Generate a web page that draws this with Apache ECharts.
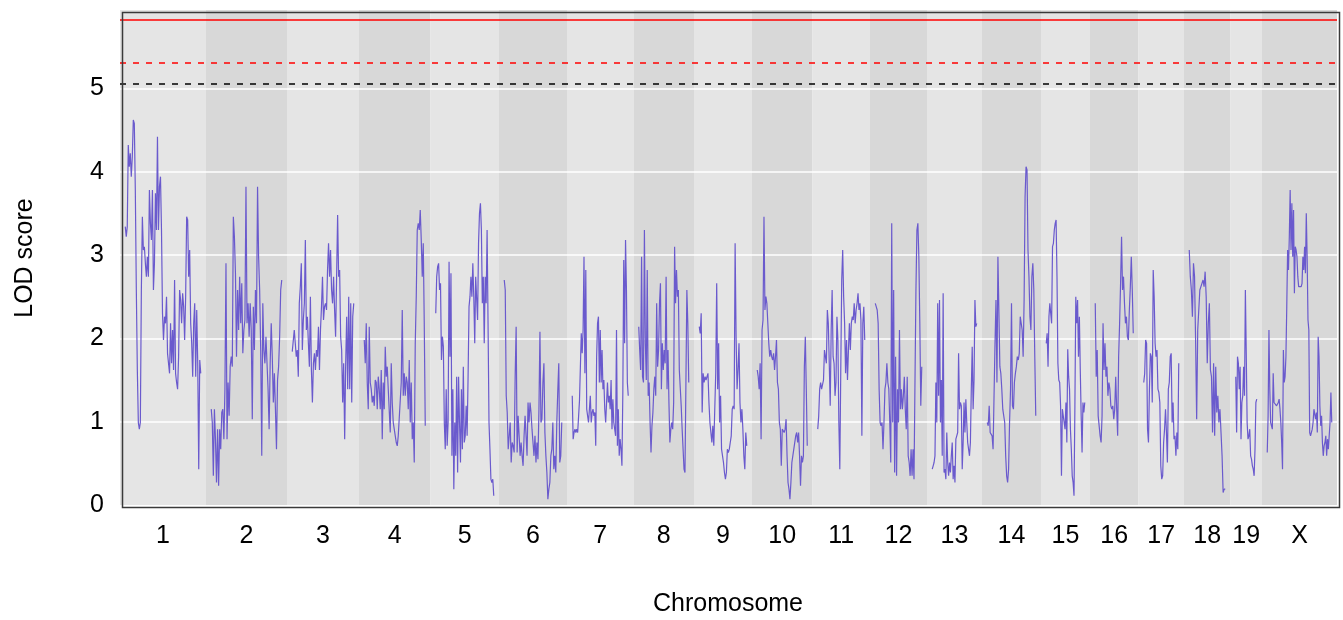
<!DOCTYPE html>
<html>
<head>
<meta charset="utf-8">
<script src="https://cdn.jsdelivr.net/npm/echarts@6/dist/echarts.min.js"></script>
<style>html,body{margin:0;padding:0;background:#fff;}#c{width:1343px;height:620px;}</style>
</head>
<body>
<div id="c"></div>
<script>
// Chromosome names and marker-span lengths (cM, arbitrary scale)
const chrNames = ['1','2','3','4','5','6','7','8','9','10','11','12','13','14','15','16','17','18','19','X'];
const chrLen = [75.5,70.5,61.5,61,58,57.5,56,50,47.5,50,47,46.5,44.5,48.5,38.5,38,35,36,21,64.5];
const chrGap = 10.5;

// LOD scores per chromosome, evenly spaced markers along each chromosome
const lod1 = [3.34,3.22,3.34,4.32,4.06,4.22,3.94,4.18,4.62,4.58,3.78,2.58,1.62,0.99,0.91,0.99,2.58,3.46,3.06,3.10,2.90,2.74,2.98,2.74,3.78,3.38,3.18,3.78,2.58,2.90,3.74,3.30,4.42,3.30,3.82,3.94,3.30,2.30,1.98,2.26,2.18,2.50,1.82,1.82,1.58,2.18,1.70,2.10,1.62,2.70,1.58,1.47,1.39,1.78,2.58,2.46,2.18,2.54,2.38,1.98,2.50,3.46,3.42,2.74,3.06,2.18,1.94,1.54,2.18,2.42,1.54,2.34,1.70,0.43,1.74,1.58];
const lod2 = [1.15,0.99,0.35,1.15,0.79,0.27,0.91,0.23,0.91,0.67,1.11,1.15,0.79,1.39,2.90,0.79,1.47,1.07,1.66,1.78,1.66,3.46,3.22,2.78,1.78,2.58,2.10,2.74,2.18,2.66,1.82,2.10,2.22,3.82,2.18,2.42,2.02,2.42,2.10,1.03,2.38,1.86,2.58,2.18,3.82,2.98,2.58,1.86,0.59,2.42,1.86,1.70,2.02,1.70,1.39,0.91,1.70,2.18,1.78,1.23,1.58,1.15,0.67,1.50,1.66,2.02,2.58,2.70];
const lod3 = [1.84,1.84,2.10,2.10,1.78,1.86,1.54,2.42,2.62,2.90,1.86,2.22,2.42,3.18,2.10,2.26,1.94,1.66,2.50,1.62,1.23,1.70,1.82,1.62,1.86,1.78,2.14,1.62,2.10,2.38,2.74,2.22,2.38,2.42,2.34,2.82,3.14,2.74,3.06,2.58,2.42,2.74,2.34,2.02,2.74,3.48,2.74,2.82,2.02,1.86,1.23,1.70,0.79,1.70,2.26,1.39,2.50,1.39,2.42,1.23,2.26,2.42];
const lod4 = [1.98,1.70,2.18,1.47,1.15,2.14,1.47,1.39,1.23,1.31,1.19,1.50,1.47,1.15,1.54,1.39,1.15,1.62,0.79,1.47,1.15,1.90,1.54,1.66,1.39,1.39,0.87,1.70,1.23,0.99,0.99,0.83,0.75,0.71,0.83,0.83,0.83,1.47,2.34,1.31,1.58,1.31,1.54,1.47,1.15,1.74,0.99,1.47,0.79,0.99,0.51,1.94,2.50,3.30,3.38,3.30,3.54,3.18,2.74,3.14,2.18,0.95];
const lod5 = [2.30,2.74,2.86,2.90,2.58,2.66,1.74,2.02,1.90,0.99,0.67,1.39,0.71,0.99,2.92,1.78,2.78,0.59,1.39,0.19,0.99,0.59,1.54,0.39,1.54,0.99,0.51,1.39,0.67,1.66,0.75,0.83,1.19,0.83,1.54,2.38,2.50,2.74,2.50,2.90,2.50,1.94,2.74,2.74,2.22,3.14,3.50,3.62,3.30,2.42,2.74,1.94,2.74,2.42,3.30,2.18,0.99,0.67,0.31,0.27,0.31,0.11];
const lod6 = [2.70,2.58,1.31,1.11,0.67,0.67,0.99,0.51,0.75,0.71,0.63,1.54,2.14,0.63,1.07,0.83,0.59,0.75,0.59,0.47,0.83,1.07,0.83,0.59,1.23,0.99,1.23,1.11,0.91,0.75,0.59,0.83,0.51,0.75,0.55,1.15,2.08,0.99,1.03,1.47,1.70,0.87,0.59,0.39,0.07,0.19,0.27,0.59,0.67,0.99,0.43,0.59,0.39,0.99,1.37,1.70,0.51,0.59,0.99];
const lod7 = [1.31,0.79,0.87,0.91,0.87,0.91,0.87,0.87,1.25,1.27,2.06,1.82,2.10,2.98,1.58,2.82,1.15,1.15,0.99,0.99,1.31,0.99,1.11,1.15,1.07,1.11,0.71,1.78,2.18,2.26,1.47,2.10,1.47,1.86,1.39,1.50,1.15,0.99,1.23,1.47,1.23,1.31,1.15,1.50,0.91,1.27,0.99,0.91,0.83,2.10,0.71,1.15,0.59,0.79,0.67,0.47,1.35,2.94,1.94,3.18,2.58,1.47,1.31];
const lod8 = [2.14,1.86,1.62,2.98,1.54,1.47,3.30,1.94,1.50,2.82,1.31,1.47,0.99,0.63,0.95,1.11,1.39,1.54,1.31,2.42,1.66,1.86,2.42,2.66,1.39,1.94,1.62,1.86,1.70,2.74,1.39,1.86,1.23,0.75,0.91,0.99,0.91,1.23,3.10,2.42,2.82,2.50,2.58,1.62,1.62,1.19,0.91,0.67,0.43,0.39,1.47,2.58,2.18,1.47];
const lod9 = [2.14,2.06,2.30,1.11,1.58,1.47,1.54,1.50,1.54,1.58,1.23,0.99,0.87,0.75,0.95,0.71,1.15,1.58,2.66,1.39,1.94,0.99,1.31,0.67,0.67,0.51,0.39,0.31,0.39,0.67,0.63,0.67,0.75,0.83,1.15,1.19,1.15,3.14,2.02,1.39,1.62,1.94,1.23,0.99,1.15,0.91,0.59,0.43,0.87,0.71];
const lod10 = [1.62,1.54,1.39,1.70,0.79,2.10,2.22,3.46,2.34,2.50,2.42,2.18,1.94,1.78,1.86,1.78,1.74,1.82,1.62,1.78,1.98,1.47,1.39,0.99,0.91,0.47,0.91,0.91,0.87,0.91,1.03,0.59,0.27,0.19,0.07,0.27,0.51,0.59,0.59,0.59,0.83,0.87,0.75,0.87,0.59,0.23,0.59,0.51,0.59,1.66,2.02,1.39,0.71];
const lod11 = [0.91,1.07,1.39,1.47,1.39,1.39,1.50,1.86,1.78,1.70,2.34,2.18,1.70,1.19,2.10,2.58,1.78,1.70,1.31,1.47,2.26,1.98,0.99,0.43,1.62,2.70,3.06,2.50,2.18,1.58,1.98,1.50,1.86,2.18,1.86,2.18,2.26,2.22,2.42,2.18,2.34,2.42,2.54,2.34,2.42,2.22,0.83,2.18,2.38,1.98];
const lod12 = [2.42,2.38,2.34,2.18,1.39,0.99,0.95,0.99,0.67,0.99,1.39,1.47,1.70,1.47,1.39,0.99,0.51,3.38,0.99,2.58,0.39,1.78,0.35,1.39,0.99,2.10,1.15,1.39,1.15,1.31,1.54,1.15,0.91,1.54,0.59,0.51,0.35,0.67,0.35,0.67,0.31,1.47,2.58,3.30,3.38,2.98,2.18,1.19,1.66];
const lod13 = [0.43,0.47,0.51,0.59,1.47,0.99,2.42,1.31,2.46,0.99,1.50,0.59,2.54,0.39,0.43,0.31,0.87,0.51,0.35,0.51,0.39,0.59,0.75,0.31,0.47,0.27,0.79,0.83,0.87,1.82,1.15,1.23,1.19,0.43,0.75,1.23,0.87,1.27,0.99,0.75,0.67,0.59,0.75,1.39,1.90,1.15,1.50,2.46,2.14,2.18];
const lod14 = [0.99,0.95,1.19,0.87,0.87,0.83,0.67,1.31,1.94,2.46,1.47,2.98,2.98,1.66,1.58,1.39,1.15,1.15,0.99,0.59,0.35,0.27,0.43,0.99,1.39,2.42,1.19,1.15,1.47,1.58,1.66,1.78,1.74,1.82,2.26,2.18,2.10,1.78,2.46,3.70,4.06,4.02,3.06,2.74,2.26,2.10,2.74,2.90,2.58,1.78,1.07];
const lod15 = [1.94,2.06,1.66,2.26,2.42,2.30,2.18,3.10,3.14,3.30,3.38,3.42,2.74,1.70,1.50,1.47,1.19,0.35,1.15,1.07,0.99,0.91,1.23,0.75,1.87,1.54,1.39,0.91,0.67,0.35,0.27,0.11,1.19,2.50,2.18,2.46,1.78,2.26,1.62,1.07,0.63,1.23,1.11,1.23];
const lod16 = [2.42,1.54,1.86,1.07,0.95,0.83,0.75,1.07,2.18,1.62,1.94,1.54,1.66,1.31,1.47,1.39,1.19,1.15,1.19,1.03,1.15,1.54,1.15,0.83,1.78,2.18,2.66,3.22,2.58,2.74,2.42,2.18,2.26,2.02,1.98,2.34,2.62,2.98,2.58,2.06];
const lod17 = [1.47,1.58,1.98,1.94,0.91,0.75,1.39,1.82,1.78,1.23,2.82,2.50,1.94,1.78,1.86,1.39,1.35,1.23,0.47,0.31,0.35,0.75,0.91,1.15,0.87,0.51,1.39,1.47,1.78,1.82,0.99,1.23,0.79,0.83,0.59,0.87,0.67,1.70];
const lod18 = [3.06,2.74,2.58,2.26,2.90,2.74,1.98,1.03,2.10,2.10,2.58,2.58,2.66,2.70,2.62,2.80,2.50,1.70,2.18,2.42,1.62,1.54,0.87,1.70,0.83,1.66,1.11,1.31,0.99,1.15,0.87,0.59,0.15,0.19,0.19];
const lod19 = [1.54,0.87,1.78,1.70,1.39,1.66,0.79,1.23,1.31,1.66,1.31,2.58,1.82,0.99,0.79,0.83,0.91,0.59,0.55,0.47,0.43,0.35,0.67,1.23,1.27];
const lodX = [0.63,1.07,2.10,1.39,0.99,0.95,0.91,1.58,1.23,1.23,1.23,1.19,1.19,1.23,1.27,1.15,0.99,0.75,0.43,1.86,1.47,1.54,1.78,2.38,3.06,2.82,3.22,3.78,3.06,3.62,2.98,3.54,2.54,3.10,3.06,2.98,2.74,2.62,2.62,2.62,2.62,2.66,2.98,2.82,3.10,2.78,3.50,2.98,2.22,2.10,0.87,0.83,0.83,0.91,0.99,1.15,1.15,1.03,1.11,0.87,2.02,1.78,1.19,0.95,1.07,0.75,0.59,0.71,0.75,0.83,0.59,0.79,0.67,0.83,0.99,1.35,0.99];

// Significance thresholds and y ticks
const thresholds = [5.82, 5.31, 5.05];
const yTicks = [0,1,2,3,4,5];
const gridValues = [1,2,3,4,5];

const lodByChr = [lod1,lod2,lod3,lod4,lod5,lod6,lod7,lod8,lod9,lod10,lod11,lod12,lod13,lod14,lod15,lod16,lod17,lod18,lod19,lodX];

// build positions
const bandStart = [], bandEnd = [], mids = [];
let acc = 0;
for (let i = 0; i < chrLen.length; i++) {
  bandStart.push(acc);
  acc += chrLen[i] + chrGap;
  bandEnd.push(acc);
  mids.push((bandStart[i] + bandEnd[i]) / 2);
}
const total = acc;

const lineColor = '#6a5acd';
const series = [];
// background bands
series.push({
  type: 'line', data: [[0, 0]], showSymbol: false, silent: true, z: 1,
  lineStyle: { opacity: 0 }, animation: false,
  markArea: {
    silent: true, z: 1, animation: false,
    data: chrLen.map((l, i) => [
      { xAxis: bandStart[i], itemStyle: { color: i % 2 === 0 ? '#e5e5e5' : '#d8d8d8' } },
      { xAxis: bandEnd[i] }
    ])
  }
});
// white horizontal grid lines above bands
series.push({
  type: 'line', data: [[0, 0]], showSymbol: false, silent: true, z: 2,
  lineStyle: { opacity: 0 }, animation: false,
  markLine: {
    silent: true, z: 2, symbol: ['none', 'none'], label: { show: false }, animation: false,
    data: gridValues.map(v => ({ yAxis: v, lineStyle: { color: '#ffffff', type: 'solid', width: 1.5 } }))
  }
});
lodByChr.forEach((vals, i) => {
  const start = bandStart[i] + chrGap / 2;
  const n = vals.length;
  const data = vals.map((v, k) => [start + chrLen[i] * k / (n - 1), v]);
  const s = {
    type: 'line', data: data, showSymbol: false, silent: true, z: 3,
    lineStyle: { color: lineColor, width: 1.2 }, animation: false
  };
  if (i === 0) {
    s.markLine = {
      silent: true, z: 4, symbol: ['none', 'none'], label: { show: false }, animation: false,
      data: [
        { yAxis: thresholds[0], lineStyle: { color: '#ff0000', type: 'solid', width: 1.6 } },
        { yAxis: thresholds[1], lineStyle: { color: '#ff0000', type: [6, 7], width: 1.6 } },
        { yAxis: thresholds[2], lineStyle: { color: '#000000', type: [6, 7], width: 1.6 } }
      ]
    };
  }
  series.push(s);
});

const chart = echarts.init(document.getElementById('c'), null, { renderer: 'canvas' });
const font = 'Liberation Sans, Arial, sans-serif';
chart.setOption({
  animation: false,
  backgroundColor: '#ffffff',
  grid: { left: 120, right: 6, top: 10, bottom: 115, show: false },
  xAxis: {
    type: 'value', min: 0, max: total,
    axisLine: { show: false }, axisTick: { show: false }, splitLine: { show: false },
    axisLabel: {
      customValues: mids, color: '#000', fontSize: 25, fontFamily: font, margin: 19,
      formatter: function (v) {
        for (let i = 0; i < mids.length; i++) if (Math.abs(mids[i] - v) < 0.01) return chrNames[i];
        return '';
      }
    }
  },
  yAxis: {
    type: 'value', min: 0, max: 5.94, interval: 1,
    axisLine: { show: false }, axisTick: { show: false },
    splitLine: { show: false },
    axisLabel: {
      customValues: yTicks,
      color: '#000', fontSize: 25, fontFamily: font, margin: 16,
      formatter: function (v) { return Number.isInteger(v) ? String(v) : ''; }
    }
  },
  graphic: [
    { type: 'rect', left: 120, top: 10, shape: { width: 1217, height: 495 },
      style: { fill: null, stroke: '#3a3a3a', lineWidth: 1.5 }, z: 100, silent: true },
    { type: 'text', x: 25, y: 258, rotation: Math.PI / 2,
      style: { text: 'LOD score', fill: '#000', font: '25px ' + font, textAlign: 'center', textVerticalAlign: 'middle' } },
    { type: 'text', x: 728, y: 604,
      style: { text: 'Chromosome', fill: '#000', font: '25px ' + font, textAlign: 'center', textVerticalAlign: 'middle' } }
  ],
  series: series
});
</script>
</body>
</html>
